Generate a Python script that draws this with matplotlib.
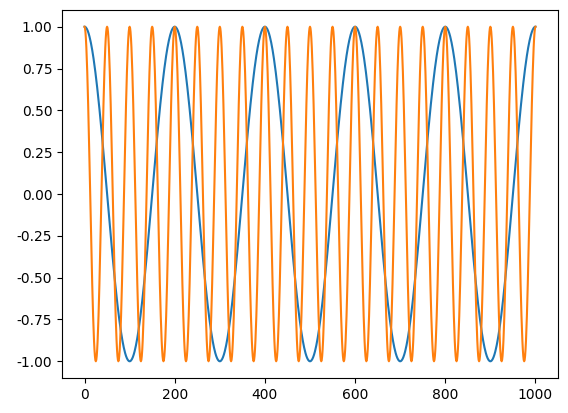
import numpy as np
import matplotlib
matplotlib.use("Agg")
from matplotlib import pyplot as plt

# sample positions and the two periods
x_max = 1000
slow_period = 200   # blue: 5 full cycles over 0..1000
fast_period = 50    # orange: 20 full cycles over 0..1000

x = np.arange(0, x_max + 1)
slow = np.cos(2 * np.pi * x / slow_period)
fast = np.cos(2 * np.pi * x / fast_period)

fig = plt.figure(figsize=(5.68, 4.13), dpi=100)
ax = fig.add_axes([62 / 568, 1 - 378 / 413, 496 / 568, 368 / 413])
ax.plot(x, slow)
ax.plot(x, fast)
ax.set_yticks(np.arange(-1.0, 1.01, 0.25))
ax.yaxis.set_major_formatter(matplotlib.ticker.FormatStrFormatter('%.2f'))

fig.savefig("out.png", dpi=100)
